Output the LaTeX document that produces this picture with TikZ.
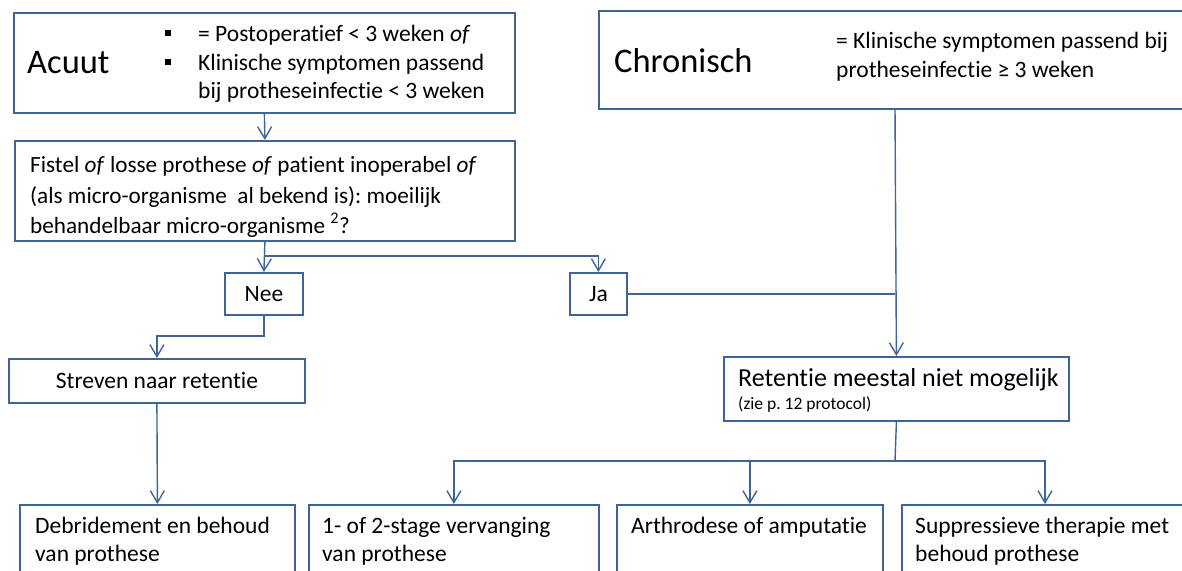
\documentclass[tikz,border=0pt]{standalone}
\usepackage{fontspec}
\setmainfont[Ligatures=NoCommon]{Carlito}
\usetikzlibrary{arrows.meta}
\definecolor{boxblue}{RGB}{62,100,152}
\frenchspacing
\begin{document}
\begin{tikzpicture}[x=1pt,y=-1pt,
  box/.style={draw=boxblue,line width=1.8pt,rectangle,inner sep=0pt,anchor=north west},
  ln/.style={draw=boxblue,line width=1.4pt},
  arr/.style={ln,-{Straight Barb[length=12pt,width=14pt,line width=1.4pt]}},
  body/.style={inner sep=0pt,anchor=base west,font=\fontsize{23.5}{28}\selectfont},
  fis/.style={body,font=\fontsize{23.2}{28}\selectfont},
  ret/.style={body,font=\fontsize{26}{30}\selectfont},
  big/.style={inner sep=0pt,anchor=base west,font=\fontsize{34.5}{40}\selectfont},
  small/.style={inner sep=0pt,anchor=base west,font=\fontsize{17.5}{21}\selectfont},
  bullet/.style={inner sep=0pt,fill=black,minimum width=6.5pt,minimum height=6.5pt}]
\useasboundingbox (0,0) rectangle (1182,570);
% boxes
\node[box,minimum width=501pt,minimum height=100pt] (acuut) at (13,12) {};
\node[box,minimum width=600pt,minimum height=98pt] (chron) at (598,10) {};
\node[box,minimum width=500pt,minimum height=100pt] (fistel) at (14,140) {};
\node[box,minimum width=78pt,minimum height=42pt] (nee) at (224,272) {};
\node[box,minimum width=57pt,minimum height=42pt] (ja) at (569,272) {};
\node[box,minimum width=296pt,minimum height=44pt] (streven) at (8,358) {};
\node[box,minimum width=345pt,minimum height=64pt] (retentie) at (723,356) {};
\node[box,minimum width=275pt,minimum height=90pt] (debr) at (19,504) {};
\node[box,minimum width=290pt,minimum height=90pt] (stage) at (308,504) {};
\node[box,minimum width=266pt,minimum height=90pt] (arthro) at (616,504) {};
\node[box,minimum width=290pt,minimum height=90pt] (suppr) at (901,504) {};
% texts
\node[big] (tacuut) at (27,73) {Acuut};
\node[bullet] (b1) at (168,33) {};
\node[bullet] (b2) at (168,62) {};
\node[body] (ta1) at (198,41) {= Postoperatief < 3 weken \textit{of}};
\node[body] (ta2) at (198,70) {Klinische symptomen passend};
\node[body] (ta3) at (198,98) {bij protheseinfectie < 3 weken};
\node[big] (tchron) at (614,72) {Chronisch};
\node[body] (tc1) at (836,48) {= Klinische symptomen passend bij};
\node[body] (tc2) at (836,77) {protheseinfectie ≥ 3 weken};
\node[fis] (tf1) at (30,172) {Fistel \textit{of} losse prothese \textit{of} patient inoperabel \textit{of}};
\node[fis] (tf2) at (30,203) {(als micro-organisme \ al bekend is): moeilijk};
\node[fis] (tf3) at (30,233) {behandelbaar micro-organisme \textsuperscript{2}?};
\node[body,anchor=base] (tnee) at (nee.center |- 0,301) {Nee};
\node[body,anchor=base] (tja) at (ja.center |- 0,301) {Ja};
\node[body,anchor=base] (tstr) at (streven.center |- 0,388) {Streven naar retentie};
\node[ret] (tr1) at (738,386) {Retentie meestal niet mogelijk};
\node[small] (tr2) at (738,409) {(zie p. 12 protocol)};
\node[body] (td1) at (35,533) {Debridement en behoud};
\node[body] (td2) at (35,561) {van prothese};
\node[body] (ts1) at (322,533) {1- of 2-stage vervanging};
\node[body] (ts2) at (322,561) {van prothese};
\node[body] (tar) at (631,533) {Arthrodese of amputatie};
\node[body] (tsu1) at (915,533) {Suppressieve therapie met};
\node[body] (tsu2) at (915,561) {behoud prothese};
% connector helpers
\coordinate (cx) at (895,108);
\coordinate (split) at (895,461);
% connectors
\draw[arr] (acuut.south) -- (fistel.north);
\draw[arr] (fistel.south) -- (nee.north);
\draw[arr] (fistel.south |- 0,256) -| (ja.north);
\draw[arr] (nee.south) |- (streven.north |- 0,336) -- (streven.north);
\draw[arr] (streven.south) -- (debr.north);
\draw[ln] (ja.east) -- (cx |- ja.east);
\draw[arr] (cx) -- (retentie.north);
\draw[ln] (retentie.south) -- (split);
\draw[arr] (split) -| (stage.north);
\draw[arr] (split) -| (arthro.north);
\draw[arr] (split) -| (1045,504);
\end{tikzpicture}
\end{document}
